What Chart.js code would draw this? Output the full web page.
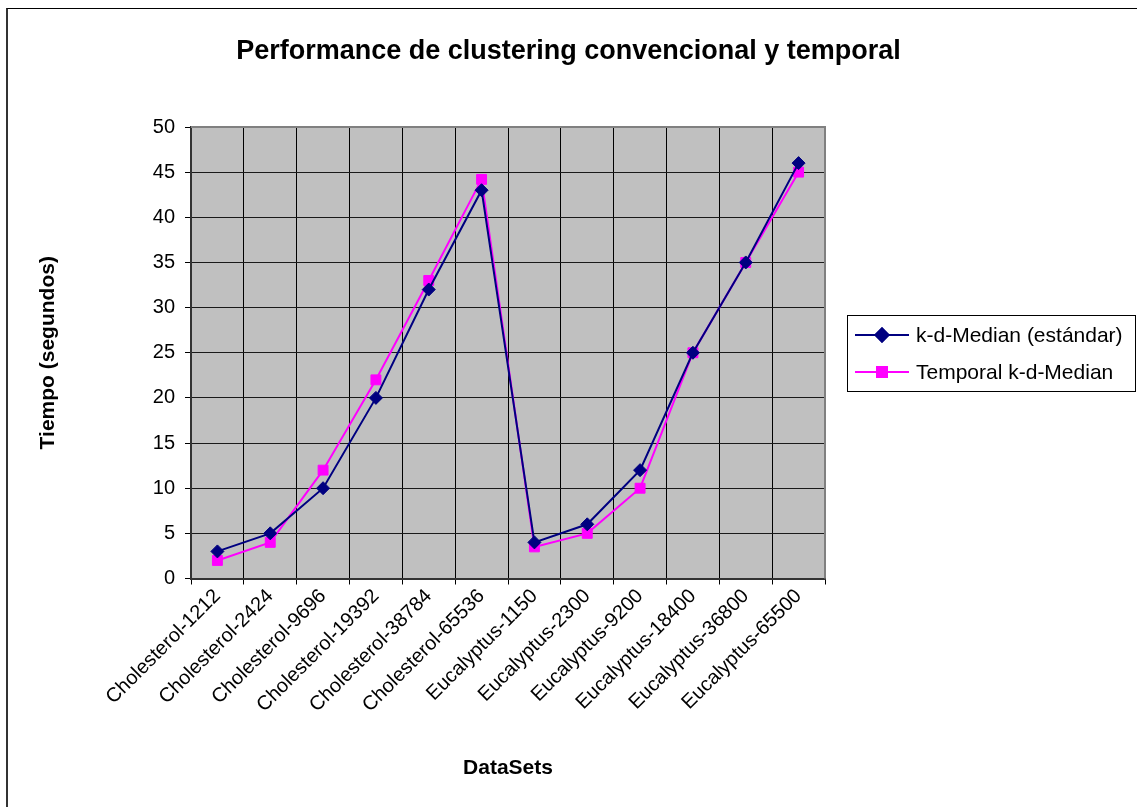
<!DOCTYPE html>
<html>
<head>
<meta charset="utf-8">
<script src="https://cdn.jsdelivr.net/npm/chart.js@4/dist/chart.umd.min.js"></script>
<style>
	body{ margin:0; background:#fff; overflow:hidden; }
	#wrap{ position:relative; width:1137px; height:807px; }
	#frame{ position:absolute; left:6px; top:8px; width:2000px; height:2000px; border-left:2px solid #333; border-top:1px solid #000; }
	#wrap canvas{ position:absolute; left:0; top:0; }
</style>
</head>
<body>
<div id="wrap">
	<div id="frame"></div>
	<canvas id="chart" width="1137" height="807"></canvas>
</div>
<script>
'use strict';

// datos
const categorias = ['Cholesterol-1212', 'Cholesterol-2424', 'Cholesterol-9696', 'Cholesterol-19392', 'Cholesterol-38784', 'Cholesterol-65536',
	'Eucalyptus-1150', 'Eucalyptus-2300', 'Eucalyptus-9200', 'Eucalyptus-18400', 'Eucalyptus-36800', 'Eucalyptus-65500'];
const kdMedian = [3, 5, 10, 20, 32, 43, 4, 6, 12, 25, 35, 46];
const temporalKdMedian = [2, 4, 12, 22, 33, 44.2, 3.5, 5, 10, 25, 35, 45];
const nombresSeries = ['k-d-Median (estándar)', 'Temporal k-d-Median'];
const ticksY = [0, 5, 10, 15, 20, 25, 30, 35, 40, 45, 50];

const fuente = '"Liberation Sans", Arial, sans-serif';

// fondo gris del area de trazado + borde superior/derecho
const fondoPlot = {
	id: 'fondoPlot',
	beforeDraw(chart){
		let a = chart.chartArea;
		let ctx = chart.ctx;
		ctx.save();
		ctx.fillStyle = '#c0c0c0';
		ctx.fillRect(a.left, a.top, a.right - a.left, a.bottom - a.top);
		ctx.restore();
	},
	beforeDatasetsDraw(chart){
		let a = chart.chartArea;
		let ctx = chart.ctx;
		ctx.save();
		ctx.strokeStyle = '#808080';
		ctx.lineWidth = 2;
		ctx.beginPath();
		ctx.moveTo(a.left, a.top);
		ctx.lineTo(a.right, a.top);
		ctx.lineTo(a.right, a.bottom);
		ctx.stroke();
		ctx.restore();
	}
};

// leyenda tipo excel a la derecha
const leyendaCaja = {
	id: 'leyendaCaja',
	afterDraw(chart){
		let ctx = chart.ctx;
		ctx.save();
		ctx.fillStyle = '#fff';
		ctx.fillRect(847.5, 315.5, 288, 76);
		ctx.strokeStyle = '#000';
		ctx.lineWidth = 1;
		ctx.strokeRect(847.5, 315.5, 288, 76);
		let ys = [335, 372];
		chart.data.datasets.forEach((ds, i) => {
			let y = ys[i];
			ctx.strokeStyle = ds.borderColor;
			ctx.lineWidth = 2;
			ctx.beginPath();
			ctx.moveTo(855, y);
			ctx.lineTo(909, y);
			ctx.stroke();
			Chart.helpers.drawPoint(ctx, {
				pointStyle: ds.pointStyle,
				radius: ds.pointRadius,
				borderWidth: 1,
				rotation: 0
			}, 882, y);
			ctx.fillStyle = ds.pointBackgroundColor;
			ctx.strokeStyle = ds.pointBorderColor;
			ctx.fill();
			ctx.stroke();
			ctx.fillStyle = '#000';
			ctx.font = '21px ' + fuente;
			ctx.textBaseline = 'middle';
			ctx.textAlign = 'left';
			ctx.fillText(ds.label, 916, y + 1);
		});
		ctx.restore();
	}
};

new Chart(document.getElementById('chart'), {
	type: 'line',
	data: {
		labels: categorias,
		datasets: [{
			label: nombresSeries[0],
			data: kdMedian,
			borderColor: '#000080',
			backgroundColor: '#000080',
			pointBackgroundColor: '#000080',
			pointBorderColor: '#000080',
			pointStyle: 'rectRot',
			pointRadius: 6.5,
			pointBorderWidth: 1,
			borderWidth: 2,
			tension: 0
		}, {
			label: nombresSeries[1],
			data: temporalKdMedian,
			borderColor: '#ff00ff',
			backgroundColor: '#ff00ff',
			pointBackgroundColor: '#ff00ff',
			pointBorderColor: '#ff00ff',
			pointStyle: 'rect',
			pointRadius: 7,
			pointBorderWidth: 1,
			borderWidth: 2,
			tension: 0
		}]
	},
	options: {
		responsive: false,
		animation: false,
		layout: { padding: 0 },
		plugins: {
			legend: { display: false },
			tooltip: { enabled: false },
			title: {
				display: true,
				text: 'Performance de clustering convencional y temporal',
				color: '#000',
				font: { family: fuente, size: 27, weight: 'bold' },
				padding: { top: 35, bottom: 59.6 }
			}
		},
		scales: {
			x: {
				offset: true,
				grid: { offset: true, color: '#000', lineWidth: 1, tickLength: 6, tickColor: '#000' },
				border: { color: '#333', width: 2 },
				ticks: {
					color: '#000',
					font: { family: fuente, size: 20 },
					minRotation: 45,
					maxRotation: 45,
					autoSkip: false,
					padding: 0
				},
				title: {
					display: true,
					text: 'DataSets',
					color: '#000',
					font: { family: fuente, size: 21, weight: 'bold' },
					padding: { top: 0, bottom: 26 }
				},
				afterFit(scale){ scale.height = 228.5; }
			},
			y: {
				min: 0,
				max: 50,
				afterBuildTicks(scale){ scale.ticks = ticksY.map(v => ({ value: v })); },
				grid: { color: '#1a1a1a', lineWidth: 1, tickLength: 6, tickColor: '#000' },
				border: { color: '#333', width: 2 },
				ticks: {
					color: '#000',
					font: { family: fuente, size: 20 },
					padding: 10
				},
				title: {
					display: true,
					text: 'Tiempo (segundos)',
					color: '#000',
					font: { family: fuente, size: 21, weight: 'bold' },
					padding: { top: 36, bottom: 0 }
				},
				afterFit(scale){ scale.width = 191; }
			},
			// eje vacio a la derecha: reserva el sitio de la leyenda
			espacio: {
				type: 'linear',
				position: 'right',
				display: true,
				grid: { display: false, drawTicks: false },
				border: { display: false },
				ticks: { display: false },
				afterFit(scale){ scale.width = 312; }
			}
		}
	},
	plugins: [fondoPlot, leyendaCaja]
});
</script>
</body>
</html>
